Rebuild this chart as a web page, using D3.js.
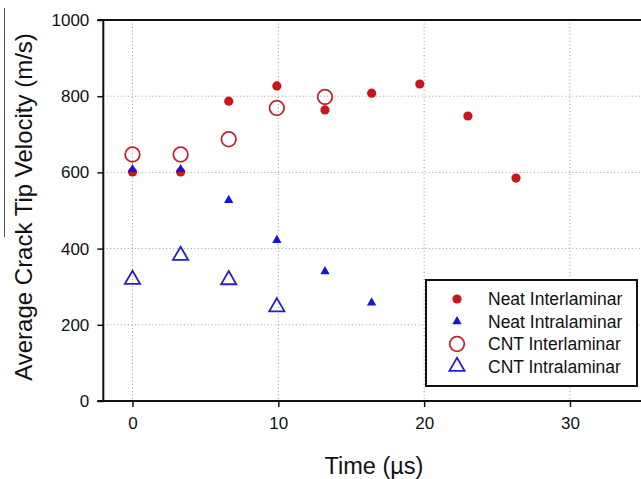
<!DOCTYPE html>
<html><head><meta charset="utf-8">
<script src="https://cdn.jsdelivr.net/npm/d3@7"></script>
<style>body{margin:0;background:#fff}svg{display:block}text{font-family:"Liberation Sans",Arial,sans-serif;fill:#111}</style>
</head><body>
<svg id="c" width="641" height="479"></svg>
<script>
const xTicks = [0, 10, 20, 30];
const yTicks = [0, 200, 400, 600, 800, 1000];
const neatInterT = [0, 3.3, 6.6, 9.9, 13.2, 16.4, 19.7, 23.0, 26.3];
const neatInterV = [601, 601, 787, 827, 764, 808, 832, 748, 585];
const neatIntraT = [0, 3.3, 6.6, 9.9, 13.2, 16.4];
const neatIntraV = [608, 608, 527, 422, 340, 258];
const cntInterT = [0, 3.3, 6.6, 9.9, 13.2];
const cntInterV = [647, 647, 687, 769, 798];
const cntIntraT = [0, 3.3, 6.6, 9.9];
const cntIntraV = [319, 382, 318, 247];
const legendLabels = ["Neat Interlaminar", "Neat Intralaminar", "CNT Interlaminar", "CNT Intralaminar"];
const xTitle = "Time (\u00b5s)";
const yTitle = "Average Crack Tip Velocity (m/s)";

const RED = "#c8161b", BLUE = "#1414e0", ORED = "#c0272d", OBLUE = "#2222c8";
const svg = d3.select("#c");
const x = d3.scaleLinear().domain([-2, 35]).range([103.3, 642.9]);
const y = d3.scaleLinear().domain([0, 1000]).range([401, 20]);

// stray line at left edge
svg.append("line").attr("x1", 4.5).attr("x2", 4.5).attr("y1", 8).attr("y2", 237).attr("stroke", "#555").attr("stroke-width", 1);

// grid
const g = svg.append("g");
g.selectAll(".gx").data(xTicks).join("line")
  .attr("x1", d => x(d)).attr("x2", d => x(d)).attr("y1", y(1000)).attr("y2", y(0))
  .attr("stroke", "#999").attr("stroke-width", 1).attr("stroke-dasharray", "1,2.5");
g.selectAll(".gy").data(yTicks.filter(v => v > 0 && v < 1000)).join("line")
  .attr("x1", x(-2)).attr("x2", 641).attr("y1", d => y(d)).attr("y2", d => y(d))
  .attr("stroke", "#999").attr("stroke-width", 1).attr("stroke-dasharray", "1,2.5");

// axes
const yAxis = d3.axisLeft(y).tickValues(yTicks).tickFormat(d3.format("d")).tickSize(6).tickPadding(8);
const ya = svg.append("g").attr("transform", `translate(${x(-2)},0)`).call(yAxis);
ya.select(".domain").remove();
ya.selectAll(".tick line").attr("stroke", "#111").attr("stroke-width", 1.5);
ya.selectAll(".tick text").attr("font-size", 17).attr("font-family", "Liberation Sans, Arial, sans-serif").attr("fill", "#111");

const xAxis = d3.axisBottom(x).tickValues(xTicks).tickFormat(d3.format("d")).tickSize(6).tickPadding(10);
const xa = svg.append("g").attr("transform", `translate(0,${y(0)})`).call(xAxis);
xa.select(".domain").remove();
xa.selectAll(".tick line").attr("stroke", "#111").attr("stroke-width", 1.5);
xa.selectAll(".tick text").attr("font-size", 17).attr("font-family", "Liberation Sans, Arial, sans-serif").attr("fill", "#111");

// frame lines
svg.append("line").attr("x1", x(-2)).attr("x2", x(-2)).attr("y1", y(1000) - 1).attr("y2", y(0) + 1).attr("stroke", "#111").attr("stroke-width", 2);
svg.append("line").attr("x1", x(-2) - 6).attr("x2", 641).attr("y1", y(1000)).attr("y2", y(1000)).attr("stroke", "#111").attr("stroke-width", 2);
svg.append("line").attr("x1", x(-2) - 6).attr("x2", 641).attr("y1", y(0)).attr("y2", y(0)).attr("stroke", "#111").attr("stroke-width", 2);

// titles
svg.append("text").attr("x", 374).attr("y", 474).attr("text-anchor", "middle").attr("font-size", 23.5).text(xTitle);
svg.append("text").attr("transform", "translate(32,207) rotate(-90)").attr("text-anchor", "middle").attr("font-size", 24).text(yTitle);

// markers
const tri = (sz) => d3.symbol().type(d3.symbolTriangle).size(sz)();
const zip = (a, b) => a.map((t, i) => [t, b[i]]);
const pts = svg.append("g");
pts.selectAll(".cntIn").data(zip(cntInterT, cntInterV)).join("circle")
  .attr("cx", d => x(d[0])).attr("cy", d => y(d[1])).attr("r", 7.3)
  .attr("fill", "none").attr("stroke", ORED).attr("stroke-width", 1.8);
pts.selectAll(".cntTr").data(zip(cntIntraT, cntIntraV)).join("path")
  .attr("d", tri(100)).attr("transform", d => `translate(${x(d[0])},${y(d[1])})`)
  .attr("fill", "none").attr("stroke", OBLUE).attr("stroke-width", 1.8);
pts.selectAll(".neIn").data(zip(neatInterT, neatInterV)).join("circle")
  .attr("cx", d => x(d[0])).attr("cy", d => y(d[1])).attr("r", 4.6).attr("fill", RED);
pts.selectAll(".neTr").data(zip(neatIntraT, neatIntraV)).join("path")
  .attr("d", tri(38)).attr("transform", d => `translate(${x(d[0])},${y(d[1])})`).attr("fill", BLUE);

// legend
const lg = svg.append("g");
lg.append("rect").attr("x", 426).attr("y", 280).attr("width", 211).attr("height", 106)
  .attr("fill", "#fff").attr("stroke", "#111").attr("stroke-width", 2);
const rows = [299, 321.5, 344, 366.5];
const lx = 457;
lg.append("circle").attr("cx", lx).attr("cy", rows[0]).attr("r", 4.6).attr("fill", RED);
lg.append("path").attr("d", tri(38)).attr("transform", `translate(${lx},${rows[1]})`).attr("fill", BLUE);
lg.append("circle").attr("cx", lx).attr("cy", rows[2]).attr("r", 7.3).attr("fill", "none").attr("stroke", ORED).attr("stroke-width", 1.8);
lg.append("path").attr("d", tri(100)).attr("transform", `translate(${lx},${rows[3]})`).attr("fill", "none").attr("stroke", OBLUE).attr("stroke-width", 1.8);
lg.selectAll(".lt").data(legendLabels).join("text")
  .attr("x", 488).attr("y", (d, i) => rows[i]).attr("dy", "0.35em").attr("font-size", 17.5).text(d => d);
</script>
</body></html>
